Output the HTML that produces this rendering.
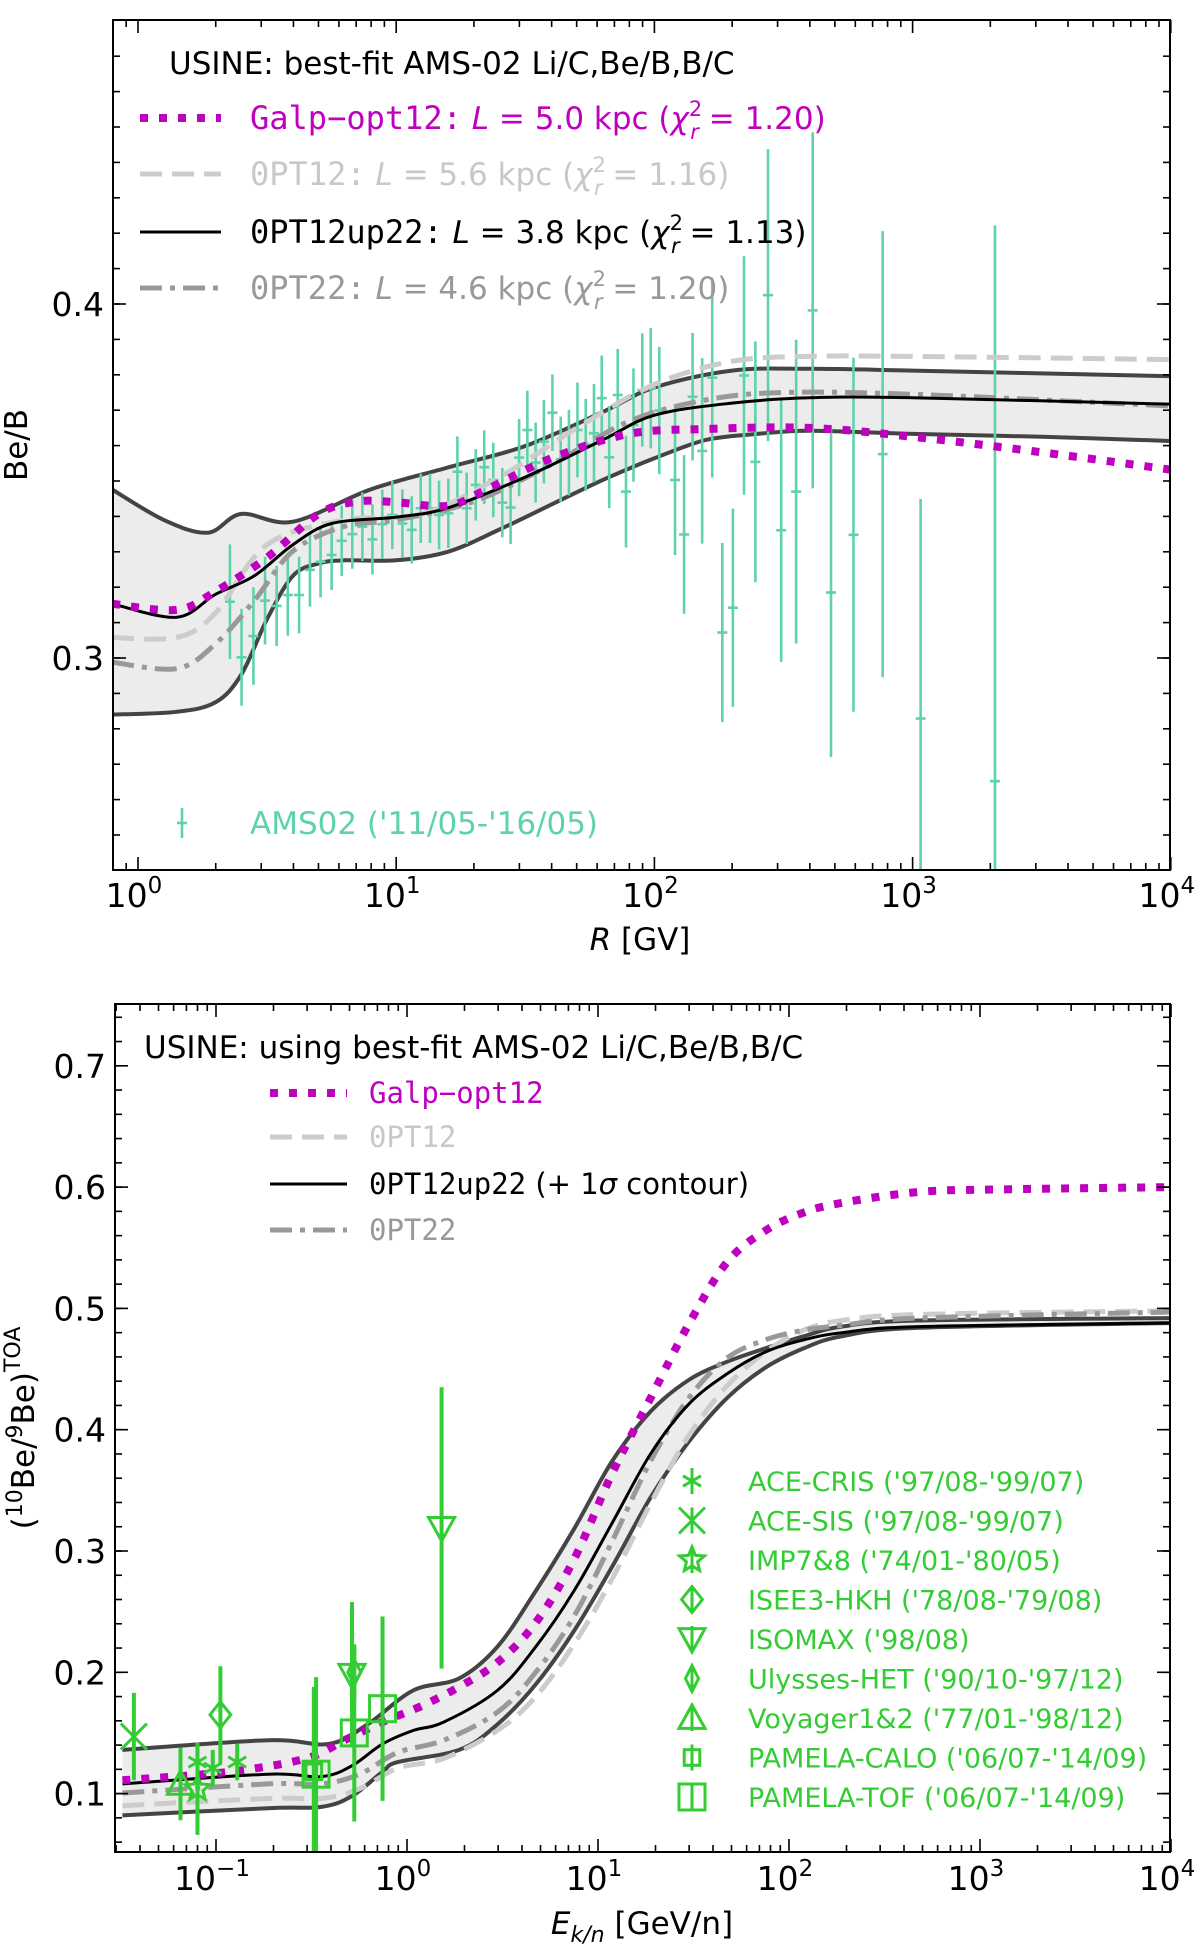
<!DOCTYPE html>
<html><head><meta charset="utf-8">
<style>
html,body{margin:0;padding:0;background:#fff;}
svg{display:block;font-family:"DejaVu Sans","Liberation Sans",sans-serif;}
</style></head>
<body>
<svg id="fig" width="1200" height="1944" viewBox="0 0 1200 1944" xmlns="http://www.w3.org/2000/svg">
<defs>
<clipPath id="clipTop"><rect x="113" y="20" width="1057" height="850"/></clipPath>
<clipPath id="clipBot"><rect x="115" y="1004" width="1055" height="848"/></clipPath>
</defs>
<g id="top"></g>
<g id="bot"></g>
</svg>
<script>
// ---------------- TOP PANEL DATA (x = log10 R[GV], y = Be/B) ----------------
const bandUpX = [-0.1,0.1,0.27,0.4,0.6,0.9,1.2,1.5,1.8,2.0,2.3,2.6,3.0,4.0];
const bandUpY = [0.3476,0.339,0.3354,0.3407,0.3385,0.3476,0.3538,0.3599,0.3695,0.3764,0.3812,0.3817,0.3812,0.3796];
const bandLoX = [-0.1,0.15,0.3,0.4,0.5,0.6,0.7,0.8,1.0,1.2,1.4,1.6,1.8,2.0,2.2,2.4,2.6,3.0,3.5,4.0];
const bandLoY = [0.284,0.2848,0.2875,0.2953,0.311,0.3232,0.3267,0.3276,0.3276,0.330,0.3363,0.3433,0.3503,0.3564,0.3616,0.3633,0.3642,0.3633,0.3625,0.3613];
const optUpX = [-0.1,0.15,0.3,0.45,0.6,0.75,1.0,1.2,1.5,1.8,2.0,2.3,2.6,3.0,4.0];
const optUpY = [0.3153,0.3115,0.318,0.3232,0.332,0.338,0.3398,0.3424,0.3511,0.3616,0.3686,0.372,0.3735,0.3735,0.3717];
const galpTX = [-0.1,0.15,0.3,0.5,0.7,0.85,1.0,1.2,1.35,1.6,1.9,2.2,2.6,3.0,3.5,4.0];
const galpTY = [0.3153,0.3136,0.3188,0.3284,0.3407,0.3442,0.344,0.343,0.3476,0.3564,0.3633,0.3647,0.365,0.3625,0.3581,0.3532];
const opt12TX = [-0.1,0.15,0.3,0.5,0.8,1.1,1.4,1.7,2.0,2.3,2.6,3.0,4.0];
const opt12TY = [0.3058,0.3058,0.3127,0.332,0.339,0.3407,0.3511,0.365,0.3773,0.3838,0.3852,0.3852,0.3843];
const opt22TX = [-0.1,0.15,0.3,0.45,0.6,0.8,1.0,1.3,1.6,1.9,2.2,2.5,3.0,4.0];
const opt22TY = [0.2988,0.297,0.304,0.3162,0.3302,0.3372,0.339,0.3442,0.3546,0.3668,0.3729,0.375,0.3745,0.3712];
const amsX = [0.356,0.401,0.447,0.492,0.537,0.580,0.624,0.666,0.707,0.750,0.789,0.830,0.869,0.908,0.946,0.985,1.024,1.060,1.095,1.131,1.166,1.202,1.237,1.273,1.308,1.341,1.376,1.411,1.443,1.476,1.508,1.540,1.572,1.605,1.637,1.669,1.702,1.734,1.766,1.796,1.825,1.858,1.890,1.919,1.953,1.986,2.019,2.080,2.115,2.148,2.185,2.224,2.263,2.304,2.347,2.391,2.440,2.491,2.549,2.613,2.684,2.771,2.884,3.031,3.319];
const amsY = [0.3159,0.3002,0.3062,0.3162,0.3147,0.3178,0.3178,0.3249,0.3272,0.3291,0.3331,0.3350,0.3371,0.3335,0.3378,0.3404,0.3380,0.3362,0.3423,0.3423,0.3404,0.3409,0.3526,0.3423,0.3489,0.3539,0.3503,0.3439,0.3425,0.3566,0.3644,0.3552,0.3611,0.3693,0.3561,0.3580,0.3644,0.3602,0.3635,0.3734,0.3567,0.3743,0.3470,0.3658,0.3757,0.3762,0.3699,0.3503,0.3349,0.3738,0.3585,0.3792,0.3072,0.3142,0.3798,0.3554,0.4025,0.3361,0.3470,0.3982,0.3185,0.3348,0.3576,0.2829,0.2652];
const amsErr = [0.0162,0.0137,0.0138,0.0124,0.0113,0.0115,0.0108,0.0104,0.0101,0.0099,0.0099,0.0098,0.0097,0.0099,0.0098,0.0096,0.0096,0.0095,0.0098,0.0098,0.0097,0.0098,0.0100,0.0101,0.0101,0.0104,0.0105,0.0098,0.0103,0.0109,0.0111,0.0113,0.0118,0.0108,0.0121,0.0121,0.0134,0.0130,0.0139,0.0120,0.0144,0.0130,0.0158,0.0160,0.0160,0.0170,0.0180,0.0212,0.0224,0.0180,0.0262,0.0282,0.0253,0.0280,0.0337,0.0340,0.0412,0.0372,0.0429,0.0503,0.0465,0.0500,0.0630,0.0620,0.1570];
const topYTicks = [0.3,0.4];
const topXTicks = [0,1,2,3,4];

// ---------------- BOTTOM PANEL DATA (x = log10 Ek/n, y = 10Be/9Be) ----------------
const bUpX = [-1.49,-0.729,-0.408,-0.208,0.032,0.273,0.473,0.674,0.874,1.074,1.275,1.475,1.675,1.875,2.076,2.276,2.677,3.999];
const bUpY = [0.136,0.144,0.141,0.157,0.185,0.195,0.221,0.267,0.318,0.374,0.415,0.441,0.456,0.467,0.477,0.485,0.490,0.492];
const bLoX = [-1.49,-0.729,-0.448,-0.288,-0.128,-0.048,0.273,0.473,0.674,0.874,1.074,1.275,1.475,1.675,1.875,2.076,2.276,2.677,3.999];
const bLoY = [0.082,0.088,0.089,0.098,0.118,0.126,0.136,0.157,0.190,0.234,0.287,0.344,0.390,0.426,0.451,0.467,0.477,0.484,0.488];
const bOptX = [-1.49,-0.729,-0.448,-0.288,-0.128,0.032,0.193,0.473,0.674,0.874,1.074,1.275,1.475,1.675,1.875,2.076,2.276,2.677,3.999];
const bOptY = [0.108,0.116,0.114,0.123,0.141,0.152,0.159,0.185,0.221,0.267,0.323,0.380,0.421,0.446,0.464,0.474,0.480,0.485,0.488];
const bGalpX = [-1.49,-0.929,-0.528,-0.328,-0.128,0.073,0.273,0.473,0.674,0.874,1.074,1.275,1.475,1.675,1.875,2.076,2.276,2.677,3.077,3.999];
const bGalpY = [0.111,0.118,0.129,0.144,0.159,0.172,0.188,0.208,0.241,0.293,0.364,0.426,0.487,0.538,0.564,0.579,0.587,0.596,0.598,0.600];
const bOpt12X = [-1.49,-0.729,-0.448,-0.248,-0.048,0.193,0.473,0.674,0.874,1.074,1.275,1.475,1.675,1.875,2.076,2.276,2.677,3.999];
const bOpt12Y = [0.090,0.096,0.096,0.104,0.121,0.129,0.152,0.180,0.223,0.277,0.339,0.395,0.436,0.464,0.482,0.490,0.495,0.498];
const bOpt22X = [-1.49,-0.729,-0.448,-0.248,-0.048,0.193,0.473,0.674,0.874,1.074,1.275,1.475,1.675,1.875,2.076,2.276,2.677,3.999];
const bOpt22Y = [0.1005,0.108,0.108,0.116,0.134,0.144,0.167,0.200,0.246,0.308,0.374,0.426,0.459,0.474,0.482,0.486,0.492,0.497];
const expNames = ["ACE-CRIS ('97/08-'99/07)","ACE-SIS ('97/08-'99/07)","IMP7&8 ('74/01-'80/05)","ISEE3-HKH ('78/08-'79/08)","ISOMAX ('98/08)","Ulysses-HET ('90/10-'97/12)","Voyager1&2 ('77/01-'98/12)","PAMELA-CALO ('06/07-'14/09)","PAMELA-TOF ('06/07-'14/09)"];
const expMarkers = ["asterisk","x","star","diamond","tridown","thindiamond","triup","smallsq","bigsq"];
const ptSeries = [0,0,0,1,2,3,4,4,5,6,7,8,8,8];
const ptX = [-1.097,-1.017,-0.889,-1.43,-1.097,-0.977,-0.288,0.181,-0.276,-1.186,-0.488,-0.476,-0.276,-0.128];
const ptY = [0.126,0.121,0.126,0.147,0.104,0.165,0.198,0.319,0.200,0.108,0.118,0.116,0.150,0.170];
const ptErr = [0.015,0.015,0.015,0.036,0.038,0.040,0.060,0.116,0.022,0.030,0.070,0.080,0.073,0.076];
const botYTicks = [0.1,0.2,0.3,0.4,0.5,0.6,0.7];
const botXTicks = [-1,0,1,2,3,4];

const NS = "http://www.w3.org/2000/svg";
function mk(tag, attrs, parent){ const e=document.createElementNS(NS,tag); for(const k in attrs) e.setAttribute(k,attrs[k]); if(parent) parent.appendChild(e); return e; }
function smoothPath(pts){
  let d="M"+pts[0][0].toFixed(1)+","+pts[0][1].toFixed(1);
  for(let i=0;i<pts.length-1;i++){
    const p0=pts[Math.max(0,i-1)],p1=pts[i],p2=pts[i+1],p3=pts[Math.min(pts.length-1,i+2)];
    const c1=[p1[0]+(p2[0]-p0[0])/6,p1[1]+(p2[1]-p0[1])/6], c2=[p2[0]-(p3[0]-p1[0])/6,p2[1]-(p3[1]-p1[1])/6];
    d+="C"+c1[0].toFixed(1)+","+c1[1].toFixed(1)+" "+c2[0].toFixed(1)+","+c2[1].toFixed(1)+" "+p2[0].toFixed(1)+","+p2[1].toFixed(1);
  }
  return d;
}
function pts(xs,ys,fx,fy){ return xs.map((x,i)=>[fx(x),fy(ys[i])]); }

function axesFrame(g, L,T,R,B, xt, fx, xMinorLog, yt, fy, yMinor, yFmt, xLabBase){
  const tk=mk("g",{},g);
  
  
  const st={stroke:"#000","stroke-width":1.6};
  xt.forEach(v=>{const x=fx(v); mk("line",Object.assign({x1:x,x2:x,y1:B,y2:B-13},st),tk); mk("line",Object.assign({x1:x,x2:x,y1:T,y2:T+13},st),tk);});
  xMinorLog.forEach(v=>{const x=fx(v); if(x>L+1&&x<R-1){mk("line",Object.assign({x1:x,x2:x,y1:B,y2:B-7},st),tk); mk("line",Object.assign({x1:x,x2:x,y1:T,y2:T+7},st),tk);}});
  yMinor.forEach(v=>{const y=fy(v); if(y>T+1&&y<B-1){mk("line",Object.assign({x1:L,x2:L+7,y1:y,y2:y},st),tk); mk("line",Object.assign({x1:R,x2:R-7,y1:y,y2:y},st),tk);}});
  yt.forEach(v=>{const y=fy(v); mk("line",Object.assign({x1:L,x2:L+13,y1:y,y2:y},st),tk); mk("line",Object.assign({x1:R,x2:R-13,y1:y,y2:y},st),tk);});
  yt.forEach(v=>{const t=mk("text",{x:L-9,y:fy(v)+12,"text-anchor":"end","font-size":33},g); t.textContent=v.toFixed(1);
    
    });
  xt.forEach(v=>{const t=mk("text",{x:fx(v)-4,y:xLabBase,"text-anchor":"middle","font-size":33},g);
    
    
    const a=mk("tspan",{},t); a.textContent="10";
    const b=mk("tspan",{dy:-14,"font-size":23},t); b.textContent=(v<0?"\u2212":"")+Math.abs(v);});
  const fr=mk("rect",{x:L,y:T,width:R-L,height:B-T,fill:"none",stroke:"#000","stroke-width":2},g);
  
  
}
function minorLogs(a,b){const r=[];for(let d=a;d<b;d++)for(let k=2;k<=9;k++)r.push(d+Math.log10(k));return r;}
function range(a,b,s){const r=[];for(let v=a;v<=b+1e-9;v+=s)r.push(+v.toFixed(4));return r;}

(function(){
  const g=document.getElementById('top');
  const L=113,T=20,R=1170,B=870;
  const fx=v=>138+258.2*v, fy=v=>304-(v-0.4)*3540;
  const cg=mk("g",{"clip-path":"url(#clipTop)"},g);
  
  
  const up=pts(bandUpX,bandUpY,fx,fy), lo=pts(bandLoX,bandLoY,fx,fy);
  const band=mk("path",{d:smoothPath(up)+smoothPath(lo.slice().reverse()).replace("M","L")+"Z",fill:"#ececec",stroke:"none"},cg);
  
  
  const eu=mk("path",{d:smoothPath(up),fill:"none",stroke:"#444","stroke-width":4},cg);
  
  
  const el=mk("path",{d:smoothPath(lo),fill:"none",stroke:"#444","stroke-width":4},cg);
  
  
  const dg=mk("g",{stroke:"#5fd3a8","stroke-width":2.6},cg);
  
  
  amsX.forEach((x,i)=>{const X=fx(x),Y=fy(amsY[i]);
    const l=mk("line",{x1:X,x2:X,y1:fy(amsY[i]+amsErr[i]),y2:fy(amsY[i]-amsErr[i])},dg);
    
    
    mk("line",{x1:X-5,x2:X+5,y1:Y,y2:Y},dg);});
  const c1=mk("path",{d:smoothPath(pts(opt12TX,opt12TY,fx,fy)),fill:"none",stroke:"#cccccc","stroke-width":5,"stroke-dasharray":"22 10"},cg);
  
  
  const c2=mk("path",{d:smoothPath(pts(opt22TX,opt22TY,fx,fy)),fill:"none",stroke:"#999999","stroke-width":5,"stroke-dasharray":"22 8 5 8"},cg);
  
  
  const c3=mk("path",{d:smoothPath(pts(optUpX,optUpY,fx,fy)),fill:"none",stroke:"#000","stroke-width":3},cg);
  
  
  const c4=mk("path",{d:smoothPath(pts(galpTX,galpTY,fx,fy)),fill:"none",stroke:"#bf00bf","stroke-width":8,"stroke-dasharray":"8 11"},cg);
  
  
  axesFrame(g,L,T,R,B,topXTicks,fx,minorLogs(-1,4),topYTicks,fy,range(0.24,0.48,0.01),null,907);
})();

(function(){
  const g=document.getElementById('bot');
  const L=115,T=1004,R=1170,B=1852;
  const fx=v=>407+191*v, fy=v=>1793.6-(v-0.1)*1213;
  const cg=mk("g",{"clip-path":"url(#clipBot)"},g);
  
  
  const up=pts(bUpX,bUpY,fx,fy), lo=pts(bLoX,bLoY,fx,fy);
  const band=mk("path",{d:smoothPath(up)+smoothPath(lo.slice().reverse()).replace("M","L")+"Z",fill:"#ececec"},cg);
  
  
  const eu=mk("path",{d:smoothPath(up),fill:"none",stroke:"#444","stroke-width":4},cg);
  
  
  const el=mk("path",{d:smoothPath(lo),fill:"none",stroke:"#444","stroke-width":4},cg);
  
  
  const c1=mk("path",{d:smoothPath(pts(bOpt12X,bOpt12Y,fx,fy)),fill:"none",stroke:"#cccccc","stroke-width":5,"stroke-dasharray":"22 10"},cg);
  
  
  const c2=mk("path",{d:smoothPath(pts(bOpt22X,bOpt22Y,fx,fy)),fill:"none",stroke:"#999999","stroke-width":5,"stroke-dasharray":"22 8 5 8"},cg);
  
  
  const c3=mk("path",{d:smoothPath(pts(bOptX,bOptY,fx,fy)),fill:"none",stroke:"#000","stroke-width":3},cg);
  
  
  const c4=mk("path",{d:smoothPath(pts(bGalpX,bGalpY,fx,fy)),fill:"none",stroke:"#bf00bf","stroke-width":8,"stroke-dasharray":"8 11"},cg);
  
  
  const dg=mk("g",{stroke:"#33cc33","stroke-width":3,fill:"none"},cg);
  
  
  ptX.forEach((x,i)=>{const X=fx(x),Y=fy(ptY[i]);
    const l=mk("line",{x1:X,x2:X,y1:fy(ptY[i]+ptErr[i]),y2:fy(ptY[i]-ptErr[i]),"stroke-width":4},dg);
    
    
    drawMarker(dg,expMarkers[ptSeries[i]],X,Y);});
  axesFrame(g,L,T,R,B,botXTicks,fx,minorLogs(-2,4),botYTicks,fy,range(0.06,0.74,0.02),null,1890);
})();

function drawMarker(g,type,X,Y){
  const s=13;
  if(type==="asterisk"){for(let a=0;a<3;a++){const an=a*Math.PI/3+Math.PI/2;mk("line",{x1:X-s*0.8*Math.cos(an),y1:Y-s*0.8*Math.sin(an),x2:X+s*0.8*Math.cos(an),y2:Y+s*0.8*Math.sin(an)},g);}}
  else if(type==="x"){mk("line",{x1:X-s,y1:Y-s,x2:X+s,y2:Y+s},g);mk("line",{x1:X-s,y1:Y+s,x2:X+s,y2:Y-s},g);mk("line",{x1:X,y1:Y-s,x2:X,y2:Y+s},g);}
  else if(type==="star"){let d="";for(let k=0;k<10;k++){const r=k%2?s*0.45:s;const an=-Math.PI/2+k*Math.PI/5;d+=(k?"L":"M")+(X+r*Math.cos(an)).toFixed(1)+","+(Y+r*Math.sin(an)).toFixed(1);}mk("path",{d:d+"Z"},g);}
  else if(type==="diamond"){mk("path",{d:`M${X},${Y-s}L${X+s*0.8},${Y}L${X},${Y+s}L${X-s*0.8},${Y}Z`},g);}
  else if(type==="thindiamond"){mk("path",{d:`M${X},${Y-s}L${X+s*0.5},${Y}L${X},${Y+s}L${X-s*0.5},${Y}Z`},g);}
  else if(type==="tridown"){mk("path",{d:`M${X-s},${Y-s*0.8}L${X+s},${Y-s*0.8}L${X},${Y+s}Z`},g);}
  else if(type==="triup"){mk("path",{d:`M${X-s},${Y+s*0.8}L${X+s},${Y+s*0.8}L${X},${Y-s}Z`},g);}
  else if(type==="smallsq"){mk("rect",{x:X-s*0.6,y:Y-s*0.6,width:s*1.2,height:s*1.2},g);}
  else if(type==="bigsq"){mk("rect",{x:X-s,y:Y-s,width:s*2,height:s*2},g);}
}
</script>

<svg style="position:absolute;left:0;top:0" width="1200" height="1944" xmlns="http://www.w3.org/2000/svg">
 <g font-family="DejaVu Sans, Liberation Sans, sans-serif" font-size="31">
  <text x="169" y="74">USINE: best-fit AMS-02 Li/C,Be/B,B/C</text>
  <g>
   <line x1="140" y1="118" x2="221" y2="118" stroke="#bf00bf" stroke-width="8" stroke-dasharray="8 11"/>
   <text x="250" y="129" fill="#bf00bf"><tspan font-family="DejaVu Sans Mono, monospace" font-size="32">Galp−opt12:</tspan> <tspan font-style="italic">L</tspan> = 5.0 kpc (<tspan font-style="italic">χ</tspan><tspan dy="-13" font-size="21">2</tspan><tspan dx="-12" dy="23" font-size="21" font-style="italic">r</tspan><tspan dy="-10"> = 1.20)</tspan></text>
   <line x1="140" y1="174" x2="221" y2="174" stroke="#cccccc" stroke-width="5" stroke-dasharray="22 10"/>
   <text x="250" y="185" fill="#c8c8c8"><tspan font-family="DejaVu Sans Mono, monospace" font-size="32">0PT12:</tspan> <tspan font-style="italic">L</tspan> = 5.6 kpc (<tspan font-style="italic">χ</tspan><tspan dy="-13" font-size="21">2</tspan><tspan dx="-12" dy="23" font-size="21" font-style="italic">r</tspan><tspan dy="-10"> = 1.16)</tspan></text>
   <line x1="140" y1="232" x2="221" y2="232" stroke="#000" stroke-width="3"/>
   <text x="250" y="243" fill="#000"><tspan font-family="DejaVu Sans Mono, monospace" font-size="32">0PT12up22:</tspan> <tspan font-style="italic">L</tspan> = 3.8 kpc (<tspan font-style="italic">χ</tspan><tspan dy="-13" font-size="21">2</tspan><tspan dx="-12" dy="23" font-size="21" font-style="italic">r</tspan><tspan dy="-10"> = 1.13)</tspan></text>
   <line x1="140" y1="288" x2="221" y2="288" stroke="#999" stroke-width="5" stroke-dasharray="22 8 5 8"/>
   <text x="250" y="299" fill="#999"><tspan font-family="DejaVu Sans Mono, monospace" font-size="32">0PT22:</tspan> <tspan font-style="italic">L</tspan> = 4.6 kpc (<tspan font-style="italic">χ</tspan><tspan dy="-13" font-size="21">2</tspan><tspan dx="-12" dy="23" font-size="21" font-style="italic">r</tspan><tspan dy="-10"> = 1.20)</tspan></text>
   <line x1="182" y1="808" x2="182" y2="838" stroke="#5fd3a8" stroke-width="2.6"/>
   <line x1="177" y1="823" x2="187" y2="823" stroke="#5fd3a8" stroke-width="2.6"/>
   <text x="250" y="834" fill="#5fd3a8">AMS02 ('11/05-'16/05)</text>
  </g>
  <text x="640" y="950" text-anchor="middle"><tspan font-style="italic">R</tspan> [GV]</text>
  <text transform="translate(27,445) rotate(-90)" text-anchor="middle">Be/B</text>

  <text x="144" y="1058">USINE: using best-fit AMS-02 Li/C,Be/B,B/C</text>
  <g>
   <line x1="270" y1="1093" x2="347" y2="1093" stroke="#bf00bf" stroke-width="8" stroke-dasharray="8 11"/>
   <text x="369" y="1103" fill="#bf00bf" font-family="DejaVu Sans Mono, monospace" font-size="29">Galp−opt12</text>
   <line x1="270" y1="1137" x2="347" y2="1137" stroke="#ccc" stroke-width="5" stroke-dasharray="22 10"/>
   <text x="369" y="1147" fill="#c8c8c8" font-family="DejaVu Sans Mono, monospace" font-size="29">0PT12</text>
   <line x1="270" y1="1184" x2="347" y2="1184" stroke="#000" stroke-width="3"/>
   <text x="369" y="1194" font-size="29"><tspan font-family="DejaVu Sans Mono, monospace">0PT12up22</tspan> (+ 1<tspan font-style="italic">σ</tspan> contour)</text>
   <line x1="270" y1="1230" x2="347" y2="1230" stroke="#999" stroke-width="5" stroke-dasharray="22 8 5 8"/>
   <text x="369" y="1240" fill="#999" font-family="DejaVu Sans Mono, monospace" font-size="29">0PT22</text>
  </g>
  <g id="dataLegend" font-size="27" fill="#33cc33"></g>
  <text x="642" y="1934" text-anchor="middle"><tspan font-style="italic">E</tspan><tspan dy="8" font-size="22" font-style="italic">k/n</tspan><tspan dy="-8"> [GeV/n]</tspan></text>
  <text transform="translate(34,1428) rotate(-90)" text-anchor="middle">(<tspan dy="-12" font-size="22">10</tspan><tspan dy="12">Be/</tspan><tspan dy="-12" font-size="22">9</tspan><tspan dy="12">Be)</tspan><tspan dy="-14" font-size="22">TOA</tspan></text>
 </g>
</svg>
<script>
(function(){
  const lg=document.getElementById('dataLegend');
  const mg=mk("g",{stroke:"#33cc33","stroke-width":3,fill:"none"},lg);
  expNames.forEach((n,i)=>{
    const y=1481+39.5*i;
    const t=mk("text",{x:748,y:y+10},lg);
    
    
    t.textContent=n;
    mk("line",{x1:692,x2:692,y1:y-13,y2:y+13},mg);
    drawMarker(mg,expMarkers[i],692,y);
  });
})();
</script>
</body></html>
